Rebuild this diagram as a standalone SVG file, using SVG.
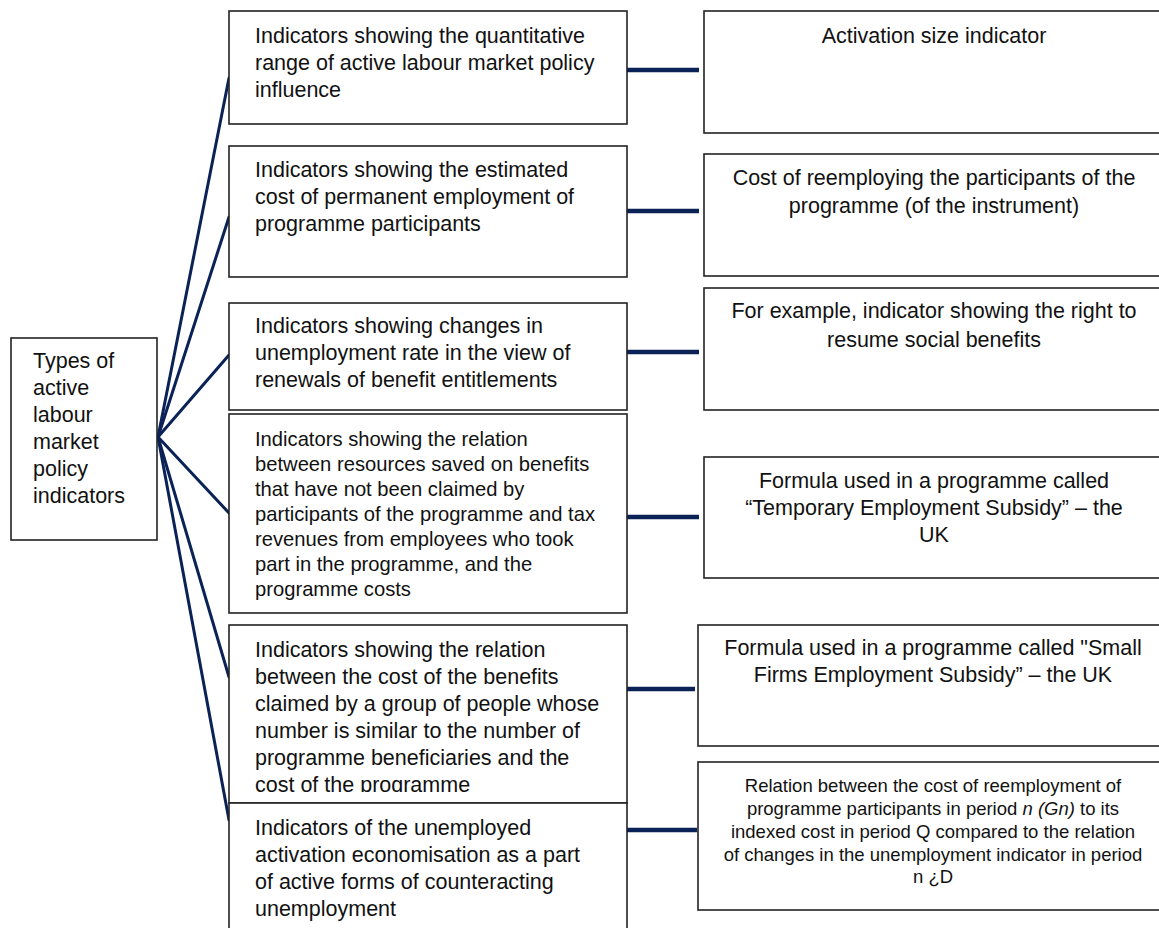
<svg xmlns="http://www.w3.org/2000/svg" width="1159" height="928" viewBox="0 0 1159 928">
<style>
.box{fill:#fff;stroke:#222;stroke-width:1.6}
.t{font-family:"Liberation Sans",Arial,sans-serif;font-size:21.5px;fill:#111}
.c{text-anchor:middle}
.s{font-size:18.5px}
.m{font-size:20.2px}
.fan{stroke:#0a2256;stroke-width:3;fill:none;stroke-linecap:round}
.h{stroke:#0a2256;stroke-width:4.5;fill:none}
</style>
<defs>
<clipPath id="clipM5"><rect x="229" y="625" width="398" height="167"/></clipPath>
</defs>
<rect width="1159" height="928" fill="#fff"/>
<g id="connectors">
<line class="fan" x1="158" y1="437" x2="229" y2="78"/>
<line class="fan" x1="158" y1="437" x2="229" y2="217"/>
<line class="fan" x1="158" y1="437" x2="229" y2="355"/>
<line class="fan" x1="158" y1="437" x2="229" y2="513"/>
<line class="fan" x1="158" y1="437" x2="229" y2="677"/>
<line class="fan" x1="158" y1="437" x2="229" y2="820"/>
<line class="h" x1="627" y1="70" x2="699" y2="70"/>
<line class="h" x1="627" y1="211" x2="699" y2="211"/>
<line class="h" x1="627" y1="352" x2="699" y2="352"/>
<line class="h" x1="627" y1="517" x2="699" y2="517"/>
<line class="h" x1="627" y1="689" x2="695" y2="689"/>
<line class="h" x1="627" y1="830" x2="697" y2="830"/>
</g>
<g id="root">
<rect class="box" x="11" y="338" width="146" height="202"/>
<text class="t"><tspan x="33" y="368">Types of</tspan><tspan x="33" y="395">active</tspan><tspan x="33" y="422">labour</tspan><tspan x="33" y="449">market</tspan><tspan x="33" y="476">policy</tspan><tspan x="33" y="503">indicators</tspan></text>
</g>
<g id="m1">
<rect class="box" x="229" y="11" width="398" height="113"/>
<text class="t"><tspan x="255" y="43">Indicators showing the quantitative</tspan><tspan x="255" y="70">range of active labour market policy</tspan><tspan x="255" y="97">influence</tspan></text>
</g>
<g id="m2">
<rect class="box" x="229" y="146" width="398" height="131"/>
<text class="t"><tspan x="255" y="177">Indicators showing the estimated</tspan><tspan x="255" y="204">cost of permanent employment of</tspan><tspan x="255" y="231">programme participants</tspan></text>
</g>
<g id="m3">
<rect class="box" x="229" y="303" width="398" height="107"/>
<text class="t"><tspan x="255" y="333">Indicators showing changes in</tspan><tspan x="255" y="360">unemployment rate in the view of</tspan><tspan x="255" y="387">renewals of benefit entitlements</tspan></text>
</g>
<g id="m4">
<rect class="box" x="229" y="414" width="398" height="199"/>
<text class="t m"><tspan x="255" y="446">Indicators showing the relation</tspan><tspan x="255" y="471">between resources saved on benefits</tspan><tspan x="255" y="496">that have not been claimed by</tspan><tspan x="255" y="521">participants of the programme and tax</tspan><tspan x="255" y="546">revenues from employees who took</tspan><tspan x="255" y="571">part in the programme, and the</tspan><tspan x="255" y="596">programme costs</tspan></text>
</g>
<g id="m5">
<rect class="box" x="229" y="625" width="398" height="178"/>
<text class="t" clip-path="url(#clipM5)"><tspan x="255" y="657">Indicators showing the relation</tspan><tspan x="255" y="684">between the cost of the benefits</tspan><tspan x="255" y="711">claimed by a group of people whose</tspan><tspan x="255" y="738">number is similar to the number of</tspan><tspan x="255" y="765">programme beneficiaries and the</tspan><tspan x="255" y="792">cost of the programme</tspan></text>
</g>
<g id="m6">
<rect class="box" x="229" y="803" width="398" height="140"/>
<text class="t"><tspan x="255" y="835">Indicators of the unemployed</tspan><tspan x="255" y="862">activation economisation as a part</tspan><tspan x="255" y="889">of active forms of counteracting</tspan><tspan x="255" y="916">unemployment</tspan></text>
</g>
<g id="r1">
<rect class="box" x="704" y="11" width="470" height="122"/>
<text class="t c" x="934" y="43">Activation size indicator</text>
</g>
<g id="r2">
<rect class="box" x="704" y="154" width="470" height="122"/>
<text class="t c"><tspan x="934" y="185">Cost of reemploying the participants of the</tspan><tspan x="934" y="213">programme (of the instrument)</tspan></text>
</g>
<g id="r3">
<rect class="box" x="704" y="288" width="470" height="122"/>
<text class="t c"><tspan x="934" y="318">For example, indicator showing the right to</tspan><tspan x="934" y="347">resume social benefits</tspan></text>
</g>
<g id="r4">
<rect class="box" x="704" y="457" width="470" height="121"/>
<text class="t c"><tspan x="934" y="488">Formula used in a programme called</tspan><tspan x="934" y="515">“Temporary Employment Subsidy” – the</tspan><tspan x="934" y="542">UK</tspan></text>
</g>
<g id="r5">
<rect class="box" x="698" y="625" width="476" height="121"/>
<text class="t c"><tspan x="933" y="655">Formula used in a programme called "Small</tspan><tspan x="933" y="682">Firms Employment Subsidy” – the UK</tspan></text>
</g>
<g id="r6">
<rect class="box" x="698" y="762" width="476" height="148"/>
<text class="t s c"><tspan x="933" y="792">Relation between the cost of reemployment of</tspan><tspan x="933" y="815">programme participants in period <tspan font-style="italic">n (Gn)</tspan> to its</tspan><tspan x="933" y="838">indexed cost in period Q compared to the relation</tspan><tspan x="933" y="861">of changes in the unemployment indicator in period</tspan><tspan x="933" y="883">n ¿D</tspan></text>
</g>
</svg>
